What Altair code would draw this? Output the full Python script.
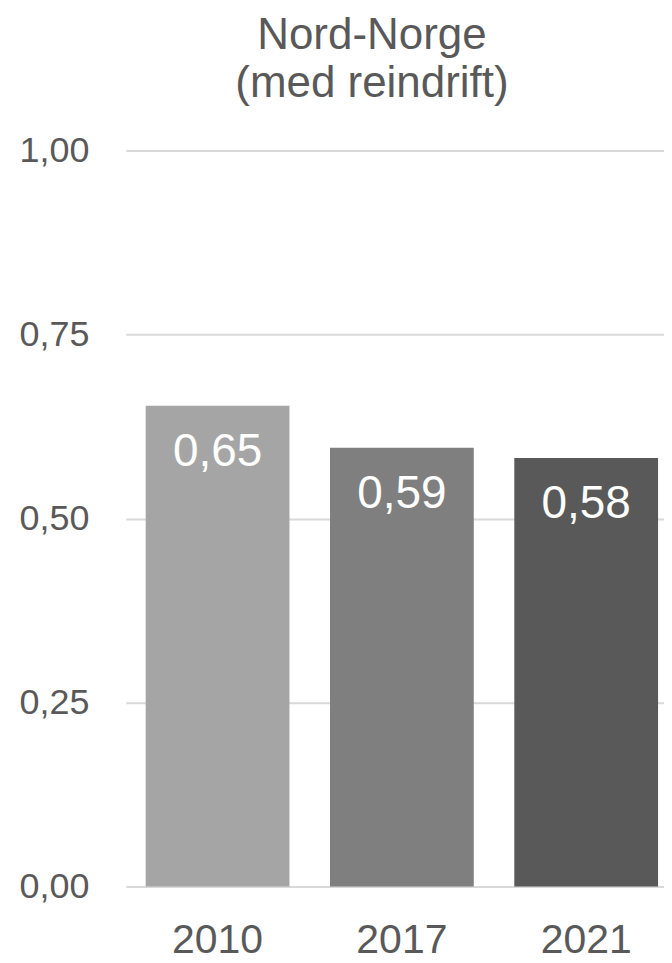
import altair as alt
import pandas as pd

years = ["2010", "2017", "2021"]
values = [0.653, 0.596, 0.582]
labels = ["0,65", "0,59", "0,58"]
colors = ["#A5A5A5", "#7F7F7F", "#595959"]

df = pd.DataFrame({"year": years, "value": values, "label": labels})

x = alt.X("year:N", sort=years, title=None,
          scale=alt.Scale(paddingInner=0.22, paddingOuter=0.07, align=0.77),
          axis=alt.Axis(labelAngle=0, labelFontSize=41, labelColor="#595959",
                        labelFont="Liberation Sans", ticks=False, domain=False,
                        labelPadding=34, grid=False))
y = alt.Y("value:Q", title=None,
          scale=alt.Scale(domain=[0, 1], nice=False),
          axis=alt.Axis(values=[0, 0.25, 0.5, 0.75, 1.0], format=".2f",
                        labelExpr="replace(format(datum.value, '.2f'), '.', ',')",
                        labelFontSize=36, labelColor="#595959", labelFont="Liberation Sans",
                        ticks=False, domain=False, labelPadding=37,
                        gridColor="#D9D9D9", gridWidth=2))

bars = alt.Chart(df).mark_bar().encode(
    x=x, y=y,
    color=alt.Color("year:N", scale=alt.Scale(domain=years, range=colors), legend=None),
)

text = alt.Chart(df).mark_text(baseline="top", dy=24, fontSize=46, color="white",
                               font="Liberation Sans").encode(
    x=alt.X("year:N", sort=years), y="value:Q", text="label:N"
)

chart = (bars + text).properties(
    width=539, height=737,
    padding={"left": 10, "top": 5, "right": 0, "bottom": 0},
    title=alt.TitleParams(["Nord-Norge", "(med reindrift)"], fontSize=44,
                          font="Liberation Sans", fontWeight="normal",
                          color="#595959", lineHeight=48, offset=27, dx=-23),
).configure_view(stroke=None)

chart.save("out.html", embed_options={"renderer": "svg", "actions": False})
